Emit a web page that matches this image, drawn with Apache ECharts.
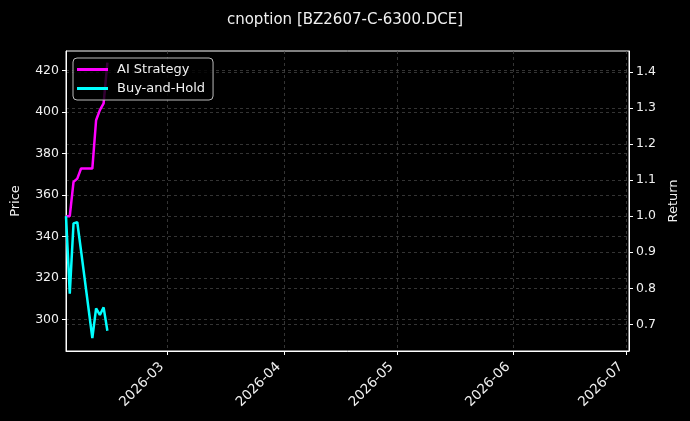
<!DOCTYPE html>
<html>
<head>
<meta charset="utf-8">
<script src="https://cdn.jsdelivr.net/npm/echarts@6/dist/echarts.min.js"></script>
<style>
  html, body { margin: 0; padding: 0; background: #000; }
  #chart { width: 690px; height: 421px; }
</style>
</head>
<body>
<div id="chart"></div>
<script>
const dates = ['2026-02-02', '2026-02-03', '2026-02-04', '2026-02-05', '2026-02-06',
  '2026-02-09', '2026-02-10', '2026-02-11', '2026-02-12', '2026-02-13']
const aiReturn = [1.0, 1.0, 1.095, 1.104, 1.132, 1.132, 1.266, 1.294, 1.313, 1.426]
const holdReturn = [1.0, 0.785, 0.98, 0.983, 0.904, 0.662, 0.744, 0.726, 0.747, 0.682]

const monthTicks = ['2026-03-01', '2026-04-01', '2026-05-01', '2026-06-01', '2026-07-01']
const priceTicks = [300, 320, 340, 360, 380, 400, 420]
const returnTicks = [0.7, 0.8, 0.9, 1.0, 1.1, 1.2, 1.3, 1.4]

const font = 'DejaVu Sans'
const textColor = '#f0f0f0'
const gridLine = { show: true, lineStyle: { color: '#4a4a4a', type: [3, 3], width: 0.7 } }

// dates are kept as plain timestamps on a value axis
function toTime(s) {
  const p = s.split('-').map(Number)
  return Date.UTC(p[0], p[1] - 1, p[2])
}

const chart = echarts.init(document.getElementById('chart'))
chart.setOption({
  backgroundColor: '#000',
  animation: false,
  title: {
    text: 'cnoption [BZ2607-C-6300.DCE]',
    left: 'center',
    top: 8,
    textStyle: { color: textColor, fontFamily: font, fontSize: 15, fontWeight: 'normal' }
  },
  legend: {
    orient: 'vertical',
    left: 73,
    top: 58,
    padding: [5, 8, 5, 4],
    itemGap: 6,
    itemWidth: 31,
    itemHeight: 3,
    icon: 'rect',
    backgroundColor: 'rgba(0,0,0,0.8)',
    borderColor: '#bbb',
    borderWidth: 1,
    borderRadius: 4,
    textStyle: { color: textColor, fontFamily: font, fontSize: 13, padding: [0, 0, 0, 4] },
    data: ['AI Strategy', 'Buy-and-Hold']
  },
  grid: {
    left: 66,
    right: 61,
    top: 51,
    bottom: 70,
    show: true,
    borderColor: '#fff',
    borderWidth: 1
  },
  xAxis: {
    type: 'value',
    min: toTime('2026-02-02'),
    max: toTime('2026-07-02') - 8 * 3600 * 1000,
    axisLine: { show: true, lineStyle: { color: '#fff' } },
    axisTick: { show: true, length: 4, lineStyle: { color: '#fff' }, customValues: monthTicks.map(toTime) },
    axisLabel: {
      color: textColor,
      fontFamily: font,
      fontSize: 13.5,
      rotate: 45,
      margin: 8,
      padding: [0, 8, 0, 0],
      customValues: monthTicks.map(toTime),
      formatter: (v) => {
        const d = new Date(v)
        return d.getUTCFullYear() + '-' + String(d.getUTCMonth() + 1).padStart(2, '0')
      }
    },
    splitLine: gridLine
  },
  yAxis: [
    {
      type: 'value',
      name: 'Price',
      nameLocation: 'middle',
      nameGap: 44,
      nameTextStyle: { color: textColor, fontFamily: font, fontSize: 13 },
      min: 284.8,
      max: 429.4,
      position: 'left',
      axisLine: { show: true, lineStyle: { color: '#fff' } },
      axisTick: { show: true, length: 4, lineStyle: { color: '#fff' }, customValues: priceTicks },
      axisLabel: { color: textColor, fontFamily: font, fontSize: 12.5, margin: 7, customValues: priceTicks },
      splitLine: gridLine
    },
    {
      type: 'value',
      name: 'Return',
      nameLocation: 'middle',
      nameGap: 38,
      nameRotate: 90,
      nameTextStyle: { color: textColor, fontFamily: font, fontSize: 13 },
      min: 0.626,
      max: 1.458,
      position: 'right',
      axisLine: { show: true, lineStyle: { color: '#fff' } },
      axisTick: { show: true, length: 4, lineStyle: { color: '#fff' }, customValues: returnTicks },
      axisLabel: {
        color: textColor,
        fontFamily: font,
        fontSize: 12.5,
        margin: 7,
        customValues: returnTicks,
        formatter: (v) => v.toFixed(1)
      },
      splitLine: gridLine
    }
  ],
  series: [
    {
      name: 'AI Strategy',
      type: 'line',
      yAxisIndex: 1,
      showSymbol: false,
      color: '#ff00ff',
      lineStyle: { width: 2.5 },
      data: dates.map((d, i) => [toTime(d), aiReturn[i]])
    },
    {
      name: 'Buy-and-Hold',
      type: 'line',
      yAxisIndex: 1,
      showSymbol: false,
      color: '#00ffff',
      lineStyle: { width: 2.5 },
      data: dates.map((d, i) => [toTime(d), holdReturn[i]])
    }
  ]
})
</script>
</body>
</html>
